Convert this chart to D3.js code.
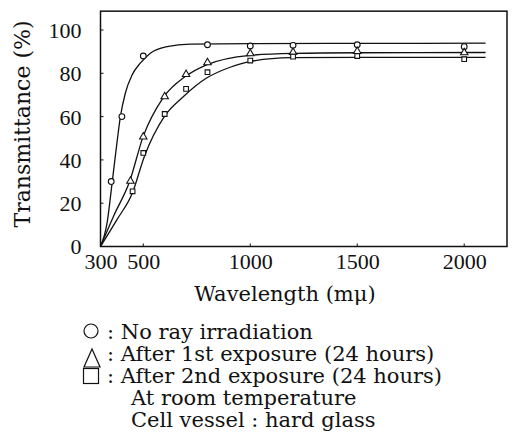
<!DOCTYPE html>
<html>
<head>
<meta charset="utf-8">
<script src="https://cdn.jsdelivr.net/npm/d3@7/dist/d3.min.js"></script>
<style>
  html, body { margin: 0; padding: 0; background: #fff; }
  svg { display: block; }
</style>
</head>
<body>
<svg id="chart" width="512" height="442"></svg>
<script>
// Measured transmittance (%) versus wavelength (mμ)
const noRayWl   = [350, 400, 500, 800, 1000, 1200, 1500, 2000];
const noRayT    = [30, 60, 88, 93.2, 92.6, 92.9, 93.2, 92.3];
const firstWl   = [440, 500, 600, 700, 800, 1000, 1200, 1500, 2000];
const firstT    = [30, 50.4, 69, 79.3, 84.7, 88.9, 89.5, 89.9, 89.3];
const secondWl  = [450, 500, 600, 700, 800, 1000, 1200, 1500, 2000];
const secondT   = [25.5, 43.2, 61.2, 72.8, 80.5, 85.9, 87.7, 88, 86.5];

// Smoothed curves drawn through each series
const noRayCurveWl  = [300, 331, 355, 377, 393, 416, 448, 486, 533, 611, 720, 1000, 1500, 2100];
const noRayCurveT   = [0, 11, 30, 48, 60, 70.8, 79.3, 84.7, 89.3, 92.3, 93.5, 93.7, 93.8, 93.9];
const firstCurveWl  = [300, 361, 436, 498, 595, 696, 793, 1000, 1200, 1500, 2100];
const firstCurveT   = [0, 14, 30, 50.4, 69, 78.5, 83.8, 88.3, 89.2, 89.5, 89.6];
const secondCurveWl = [300, 377, 449, 505, 598, 688, 794, 906, 997, 1192, 1500, 2100];
const secondCurveT  = [0, 12.4, 24.7, 41.6, 60, 69.3, 77.7, 82.8, 85.4, 87.2, 87.4, 87.4];

const xTicks = [300, 500, 1000, 1500, 2000];
const yTicks = [0, 20, 40, 60, 80, 100];

const legendLabels = [
  ": No ray irradiation",
  ": After 1st exposure (24 hours)",
  ": After 2nd exposure (24 hours)"
];
const noteLines = ["At room temperature", "Cell vessel : hard glass"];

const NUM_FONT = '"Liberation Serif", serif';
const WORD_FONT = '"DejaVu Serif", serif';
const svg = d3.select("#chart");
const ink = "#111";

const x = d3.scaleLinear().domain([300, 2200]).range([100.5, 507]);
const y = d3.scaleLinear().domain([0, 100]).range([246.5, 30]);
const yTop = y(108.7);

// frame
svg.append("rect")
  .attr("x", x(300)).attr("y", yTop)
  .attr("width", x(2200) - x(300)).attr("height", y(0) - yTop)
  .attr("fill", "none").attr("stroke", ink).attr("stroke-width", 1.5);

// axes: short inward ticks, labels outside
const xAxis = d3.axisBottom(x).tickValues(xTicks).tickFormat(d3.format("d")).tickSize(0);
const gx = svg.append("g").attr("transform", `translate(0,${y(0)})`).call(xAxis);
gx.select(".domain").remove();
gx.selectAll(".tick text")
  .attr("dy", null).attr("y", 22)
  .style("font-family", NUM_FONT).style("font-size", "22px")
  .attr("fill", ink);
xTicks.filter(d => d !== 300).forEach(d => {
  svg.append("line").attr("x1", x(d)).attr("x2", x(d))
    .attr("y1", y(0)).attr("y2", y(0) - 3).attr("stroke", ink).attr("stroke-width", 1);
});

const yAxis = d3.axisLeft(y).tickValues(yTicks).tickSize(0).tickPadding(19);
const gy = svg.append("g").attr("transform", `translate(${x(300)},0)`).call(yAxis);
gy.select(".domain").remove();
gy.selectAll(".tick text")
  .attr("dy", "0.34em")
  .style("font-family", NUM_FONT).style("font-size", "22px")
  .attr("fill", ink);
yTicks.filter(d => d !== 0).forEach(d => {
  svg.append("line").attr("x1", x(300)).attr("x2", x(300) + 3)
    .attr("y1", y(d)).attr("y2", y(d)).attr("stroke", ink).attr("stroke-width", 1);
});

// axis titles
svg.append("text")
  .attr("x", 285).attr("y", 301)
  .attr("text-anchor", "middle")
  .style("font-family", WORD_FONT).style("font-size", "21px")
  .attr("fill", ink)
  .text("Wavelength (m\u03BC)");

svg.append("text")
  .attr("transform", "translate(30,124) rotate(-90)")
  .attr("text-anchor", "middle")
  .style("font-family", WORD_FONT).style("font-size", "22px")
  .attr("fill", ink)
  .text("Transmittance (%)");

// curves
const line = d3.line().x(d => x(d[0])).y(d => y(d[1])).curve(d3.curveMonotoneX);
const curves = [
  d3.zip(noRayCurveWl, noRayCurveT),
  d3.zip(firstCurveWl, firstCurveT),
  d3.zip(secondCurveWl, secondCurveT)
];
curves.forEach(c => {
  svg.append("path").datum(c).attr("d", line)
    .attr("fill", "none").attr("stroke", ink).attr("stroke-width", 1.3);
});

// markers
const circ = d3.symbol().type(d3.symbolCircle).size(26);
const tri = d3.symbol().type(d3.symbolTriangle).size(24);
const sq = d3.symbol().type(d3.symbolSquare).size(22);
const series = [
  { wl: noRayWl, t: noRayT, sym: circ, dy: 0 },
  { wl: firstWl, t: firstT, sym: tri, dy: -0.5 },
  { wl: secondWl, t: secondT, sym: sq, dy: 0 }
];
series.forEach(s => {
  svg.append("g").selectAll("path")
    .data(d3.zip(s.wl, s.t))
    .join("path")
    .attr("transform", d => `translate(${x(d[0])},${y(d[1]) + s.dy})`)
    .attr("d", s.sym)
    .attr("fill", "#fff").attr("stroke", ink).attr("stroke-width", 1.1);
});

// legend
const lg = svg.append("g");
const baselines = [339, 361, 383];
lg.append("circle").attr("cx", 91).attr("cy", 331).attr("r", 7)
  .attr("fill", "none").attr("stroke", ink).attr("stroke-width", 1.2);
lg.append("path").attr("d", "M92,349 L100,367 L84,367 Z")
  .attr("fill", "none").attr("stroke", ink).attr("stroke-width", 1.2);
lg.append("rect").attr("x", 83.5).attr("y", 368.5).attr("width", 15).attr("height", 15)
  .attr("fill", "none").attr("stroke", ink).attr("stroke-width", 1.2);
legendLabels.forEach((t, i) => {
  lg.append("text").attr("x", 107).attr("y", baselines[i])
    .style("font-family", WORD_FONT).style("font-size", "21px")
    .attr("fill", ink)
    .text(t);
});
noteLines.forEach((t, i) => {
  lg.append("text").attr("x", 131).attr("y", 405 + i * 22)
    .style("font-family", WORD_FONT).style("font-size", "21px")
    .attr("fill", ink)
    .text(t);
});
</script>
</body>
</html>
